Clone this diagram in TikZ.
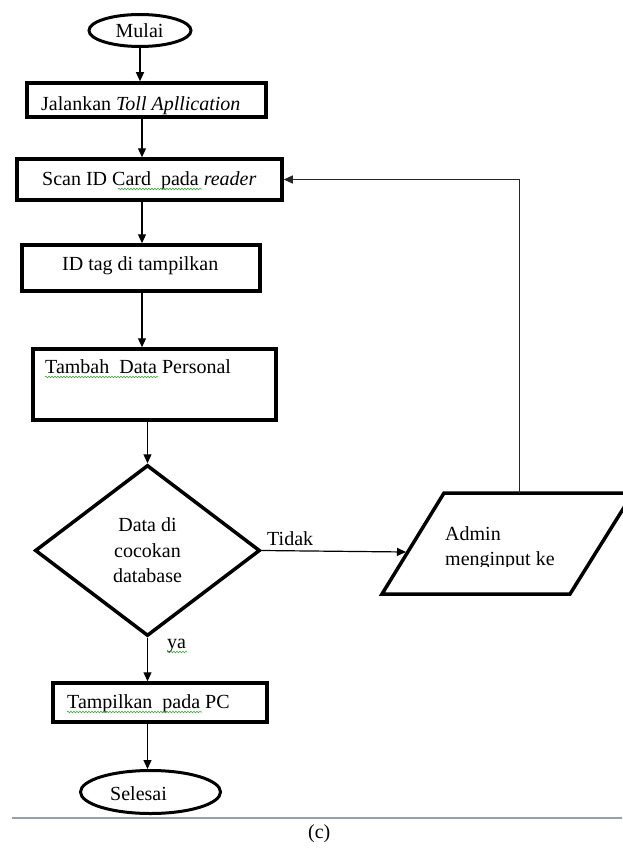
\documentclass[tikz,border=0pt]{standalone}
\usepackage{fontspec}
\setmainfont{Liberation Serif}
\usetikzlibrary{shapes.geometric,arrows.meta,decorations.pathmorphing}
\definecolor{rulegray}{RGB}{150,160,172}
\definecolor{squiggreen}{RGB}{60,170,60}
\begin{document}
\begin{tikzpicture}[x=1pt,y=-1pt,
  font={\fontsize{20}{25.5}\selectfont},
  box/.style={draw,rectangle,line width=3.5pt,inner sep=0pt},
  term/.style={draw,ellipse,line width=3pt,inner sep=0pt},
  lbl/.style={inner sep=0pt,anchor=base west},
  arr/.style={line width=1.2pt,-{Triangle[length=9pt,width=8pt]}},
  squig/.style={draw=squiggreen,line width=0.6pt,decorate,decoration={snake,amplitude=0.8pt,segment length=3pt}}]
\useasboundingbox (0,0) rectangle (622,851);
\fill[white] (0,0) rectangle (622,851);

% shapes
\node[term,minimum width=102pt,minimum height=32pt] (start) at (140,30.5) {};
\node[box,minimum width=239pt,minimum height=34pt] (n1) at (146.5,100) {};
\node[box,minimum width=265pt,minimum height=41pt] (n2) at (149.5,179.5) {};
\node[box,minimum width=238pt,minimum height=46pt] (n3) at (141,268) {};
\node[box,minimum width=243pt,minimum height=71pt] (n4) at (154.5,384.5) {};
\node[draw,diamond,line width=3.5pt,inner sep=0pt,aspect=1.3,
      minimum width=225pt,minimum height=171pt,align=center] (dec) at (147.5,550.5)
      {Data di\\cocokan\\database};
\node[box,minimum width=214pt,minimum height=39pt] (n5) at (160,702.5) {};
\node[term,minimum width=140pt,minimum height=43pt] (end) at (150.5,792) {};

% parallelogram (input/output)
\draw[line width=3.5pt,line join=miter] (382,594) -- (444,493) -- (633,493) -- (570,594) -- cycle;
\coordinate (ioL) at (406,552);
\coordinate (ioT) at (519,493);

% texts
\node[lbl] (tstart) at (115.5,37.5) {Mulai};
\node[lbl] (t1) at (41,110) {Jalankan \textit{Toll Apllication}};
\node[lbl] (t2) at (42,185) {Scan ID Card\ \ pada \textit{reader}};
\node[lbl] (t3) at (62,270) {ID tag di tampilkan};
\node[lbl] (t4) at (45,373) {Tambah\ \ Data Personal};
\node[lbl] (t5) at (67,708) {Tampilkan\ \ pada PC};
\node[lbl] (tend) at (110,800) {Selesai};
\node[lbl] (tidak) at (267,545) {Tidak};
\node[lbl] (ya) at (167,648) {ya};
\begin{scope}
  \clip (440,500) rectangle (620,566);
  \node[inner sep=0pt,anchor=north west,align=left] (tio) at (445,526.3) {Admin\\menginput ke};
\end{scope}
\node[lbl] (cap) at (308,838) {(c)};

% spell-check squiggles
\draw[squig] (118,189) -- (202,189);
\draw[squig] (45,377) -- (158,377);
\draw[squig] (67,712) -- (202,712);
\draw[squig] (167,652) -- (187,652);

% connectors
\coordinate (x142) at (142,0);
\draw[arr] (start.south) -- (start.south |- n1.north);
\draw[arr] (n1.south -| x142) -- (n2.north -| x142);
\draw[arr] (n2.south -| x142) -- (n3.north -| x142);
\draw[arr] (n3.south -| x142) -- (n4.north -| x142);
\draw[arr] (n4.south -| dec.north) -- (dec.north);
\draw[arr] (dec.south) -- (dec.south |- n5.north);
\draw[arr] (n5.south -| dec.south) -- (end.north -| dec.south);
\draw[arr] (dec.east) -- (ioL);
\draw[arr,line width=1pt,draw=black!85] (ioT) -- (ioT |- n2.east) -- (n2.east);

% bottom rule
\draw[line width=1.3pt,draw=rulegray] (12,818) -- (622,818);
\end{tikzpicture}
\end{document}
